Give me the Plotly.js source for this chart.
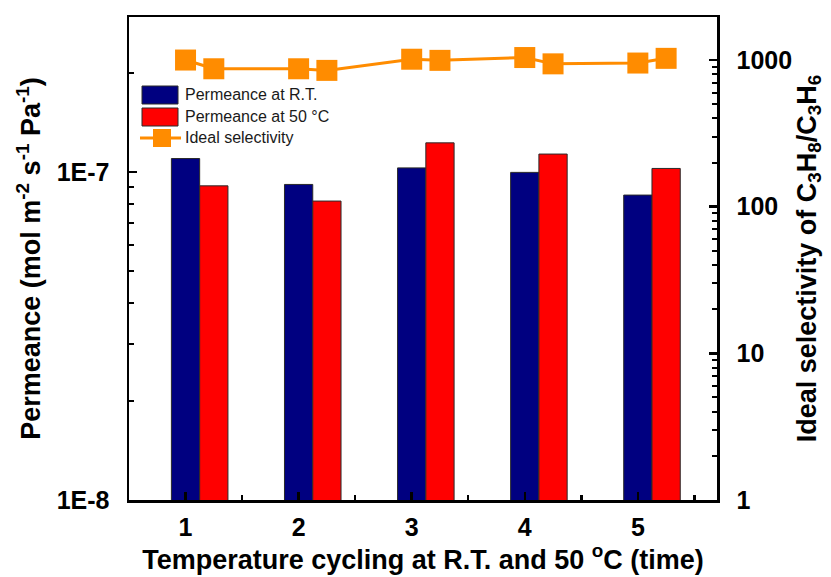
<!DOCTYPE html>
<html>
<head>
<meta charset="utf-8">
<script src="https://cdn.plot.ly/plotly-3.0.1.min.js"></script>
<style>html,body{margin:0;padding:0;background:#fff;}#chart{width:831px;height:577px;}</style>
</head>
<body>
<div id="chart"></div>
<script>
// ---- data ----
const cycles = [1, 2, 3, 4, 5];
const permeanceRT = [1.10e-7, 9.17e-8, 1.03e-7, 9.98e-8, 8.51e-8];
const permeance50 = [9.08e-8, 8.16e-8, 1.228e-7, 1.135e-7, 1.026e-7];
const selectivityRT = [1000, 872, 1013, 1040, 954];
const selectivity50 = [872, 850, 995, 942, 1027];
const seriesNames = ['Permeance at R.T.', 'Permeance at 50 \u00B0C', 'Ideal selectivity'];
const leftTickVals = [1e-8, 1e-7];
const leftTickText = ['1E-8', '1E-7'];
const rightTickVals = [1, 10, 100, 1000];
const rightTickText = ['1', '10', '100', '1000'];

// ---- layout helpers ----
const shift = 0.25; // 50 °C measurement drawn right of the R.T. one
const barW = 0.25;
const selX = [], selY = [];
cycles.forEach((c, i) => { selX.push(c, c + shift); selY.push(selectivityRT[i], selectivity50[i]); });

function minorLog(lo, hi) {
  const out = [];
  for (let e = lo; e < hi; e++) for (let d = 2; d <= 9; d++) out.push(d * Math.pow(10, e));
  return out;
}

const FONT = 'Liberation Sans, Arial, sans-serif';
const blue = '#000080', red = '#FF0000', orange = '#FF8C00';
const TICK = 25, TITLE = 27;

const traces = [
  { type: 'bar', x: cycles, y: permeanceRT, name: seriesNames[0], width: barW, offset: -barW / 2,
    marker: { color: blue, line: { color: '#2a2a2a', width: 1 } }, yaxis: 'y', showlegend: false },
  { type: 'bar', x: cycles, y: permeance50, name: seriesNames[1], width: barW, offset: shift - barW / 2,
    marker: { color: red, line: { color: '#2a2a2a', width: 1 } }, yaxis: 'y', showlegend: false },
  { type: 'scatter', mode: 'lines+markers', x: selX, y: selY, name: seriesNames[2], yaxis: 'y2',
    line: { color: orange, width: 3 }, marker: { symbol: 'square', size: 21, color: orange }, showlegend: false }
];

// plot area in px: x 129..717, y 17..500
const L = 129, R = 717, T = 17, B = 500;
const px = v => (v - L) / (R - L);
const py = v => (B - v) / (B - T);

const legendShapes = [
  { type: 'rect', xref: 'paper', yref: 'paper', x0: px(142), x1: px(178), y0: py(104), y1: py(86),
    fillcolor: blue, line: { color: '#2a2a2a', width: 1 } },
  { type: 'rect', xref: 'paper', yref: 'paper', x0: px(142), x1: px(178), y0: py(126), y1: py(108),
    fillcolor: red, line: { color: '#2a2a2a', width: 1 } },
  { type: 'line', xref: 'paper', yref: 'paper', x0: px(140), x1: px(181), y0: py(138), y1: py(138),
    line: { color: orange, width: 3 } },
  { type: 'rect', xref: 'paper', yref: 'paper', x0: px(153), x1: px(171), y0: py(147), y1: py(129),
    fillcolor: orange, line: { color: orange, width: 0 } }
];
const legendY = [95, 117, 138];
const legendAnn = seriesNames.map((n, i) => ({
  xref: 'paper', yref: 'paper', x: px(183), y: py(legendY[i]), xanchor: 'left', yanchor: 'middle',
  text: n, showarrow: false, font: { family: FONT, size: 16, color: '#1a1a1a' }
}));

const layout = {
  width: 831, height: 577,
  margin: { l: L, r: 831 - R, t: T, b: 577 - B, pad: 0 },
  paper_bgcolor: '#fff', plot_bgcolor: '#fff',
  barmode: 'overlay',
  showlegend: false,
  font: { family: FONT, color: '#000' },
  xaxis: {
    range: [0.5, 5.7], tickvals: cycles, ticktext: cycles.map(String),
    ticks: 'inside', ticklen: 8, tickwidth: 2.5, tickcolor: '#000',
    minor: { tickvals: cycles.map(c => c + 0.5), ticks: 'inside', ticklen: 5, tickwidth: 2.5, tickcolor: '#000' },
    showline: true, linewidth: 2.5, linecolor: '#000', mirror: true,
    showgrid: false, zeroline: false, ticklabelstandoff: 3,
    tickfont: { family: FONT, size: TICK, color: '#000', weight: 'bold' },
    title: { text: 'Temperature cycling at R.T. and 50 <sup>o</sup>C (time)', standoff: 2,
      font: { family: FONT, size: TITLE, color: '#000', weight: 'bold' } }
  },
  yaxis: {
    type: 'log', range: [-8, -6.527], tickvals: leftTickVals, ticktext: leftTickText,
    ticks: 'inside', ticklen: 8, tickwidth: 2.5, tickcolor: '#000',
    minor: { tickvals: minorLog(-8, -6), ticks: 'inside', ticklen: 5, tickwidth: 2, tickcolor: '#000' },
    showline: true, linewidth: 2.5, linecolor: '#000',
    showgrid: false, zeroline: false, ticklabelstandoff: 12,
    tickfont: { family: FONT, size: TICK, color: '#000', weight: 'bold' },
    title: { text: 'Permeance (mol m<sup>-2</sup> s<sup>-1</sup> Pa<sup>-1</sup>)', standoff: 8,
      font: { family: FONT, size: TITLE, color: '#000', weight: 'bold' } }
  },
  yaxis2: {
    type: 'log', range: [0, 3.2935], overlaying: 'y', side: 'right', anchor: 'x',
    tickvals: rightTickVals, ticktext: rightTickText,
    ticks: 'inside', ticklen: 8, tickwidth: 2.5, tickcolor: '#000',
    minor: { tickvals: minorLog(0, 4), ticks: 'inside', ticklen: 5, tickwidth: 2, tickcolor: '#000' },
    showline: true, linewidth: 2.5, linecolor: '#000',
    showgrid: false, zeroline: false, ticklabelstandoff: 12,
    tickfont: { family: FONT, size: TICK, color: '#000', weight: 'bold' },
    title: { text: 'Ideal selectivity of C<sub>3</sub>H<sub>8</sub>/C<sub>3</sub>H<sub>6</sub>', standoff: 6,
      font: { family: FONT, size: TITLE, color: '#000', weight: 'bold' } }
  },
  shapes: legendShapes,
  annotations: legendAnn
};

Plotly.newPlot('chart', traces, layout, { displayModeBar: false, staticPlot: true });
</script>
</body>
</html>
